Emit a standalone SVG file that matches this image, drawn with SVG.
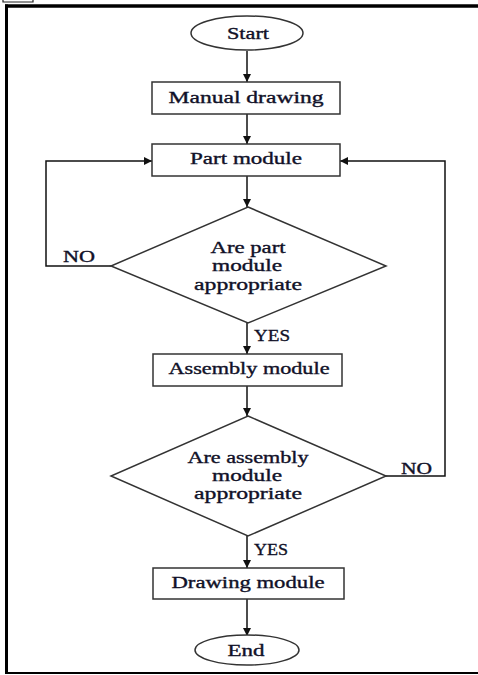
<svg xmlns="http://www.w3.org/2000/svg" width="478" height="675" viewBox="0 0 478 675">
<style>
.shape{fill:#fff;stroke:#333;stroke-width:1.5}
.conn{fill:none;stroke:#111;stroke-width:1.5}
text{font-family:"Liberation Serif","Times New Roman",serif;font-size:16px;fill:#111128;stroke:#111128;stroke-width:0.35;text-anchor:middle}
.lbl{text-anchor:start}
</style>
<defs>
<marker id="arr" viewBox="0 0 10 10" refX="10" refY="5" markerWidth="8" markerHeight="8" markerUnits="userSpaceOnUse" orient="auto">
<path d="M0,0 L10,5 L0,10 z" fill="#111"/>
</marker>
</defs>
<rect width="478" height="675" fill="#fff"/>
<g id="frame">
<path d="M3,0 V2 H33 V0" fill="none" stroke="#222" stroke-width="1.2"/>
<line x1="5" y1="6" x2="478" y2="6" stroke="#000" stroke-width="3.5"/>
<line x1="6.5" y1="4.5" x2="6.5" y2="674" stroke="#000" stroke-width="3"/>
<line x1="5" y1="673" x2="478" y2="673" stroke="#000" stroke-width="2"/>
</g>
<g id="connectors">
<line class="conn" x1="247" y1="51" x2="247" y2="82" marker-end="url(#arr)"/>
<line class="conn" x1="247" y1="114" x2="247" y2="144" marker-end="url(#arr)"/>
<line class="conn" x1="247" y1="176" x2="247" y2="207" marker-end="url(#arr)"/>
<polyline class="conn" points="111,266 46,266 46,161 152,161" marker-end="url(#arr)"/>
<line class="conn" x1="247" y1="323" x2="247" y2="354" marker-end="url(#arr)"/>
<line class="conn" x1="247" y1="386" x2="247" y2="416" marker-end="url(#arr)"/>
<polyline class="conn" points="386,476 445,476 445,161 340,161" marker-end="url(#arr)"/>
<line class="conn" x1="247" y1="536" x2="247" y2="568" marker-end="url(#arr)"/>
<line class="conn" x1="247" y1="599" x2="247" y2="636" marker-end="url(#arr)"/>
<text class="lbl" x="63" y="262" textLength="32" lengthAdjust="spacingAndGlyphs">NO</text>
<text class="lbl" x="254" y="341" textLength="36" lengthAdjust="spacingAndGlyphs">YES</text>
<text class="lbl" x="401" y="474" textLength="31" lengthAdjust="spacingAndGlyphs">NO</text>
<text class="lbl" x="254" y="555" textLength="34" lengthAdjust="spacingAndGlyphs">YES</text>
</g>
<g id="start">
<ellipse class="shape" cx="247" cy="33" rx="56" ry="17"/>
<text x="248" y="39" textLength="42" lengthAdjust="spacingAndGlyphs">Start</text>
</g>
<g id="manual-drawing">
<rect class="shape" x="152" y="82" width="188" height="32"/>
<text x="246" y="103" textLength="155" lengthAdjust="spacingAndGlyphs">Manual drawing</text>
</g>
<g id="part-module">
<rect class="shape" x="152" y="144" width="188" height="32"/>
<text x="246" y="164" textLength="112" lengthAdjust="spacingAndGlyphs">Part module</text>
</g>
<g id="decision-part">
<polygon class="shape" points="248,207 386,266 248,323 111,266"/>
<text x="248" y="253" textLength="75" lengthAdjust="spacingAndGlyphs">Are part</text>
<text x="247" y="271" textLength="70" lengthAdjust="spacingAndGlyphs">module</text>
<text x="248" y="290" textLength="108" lengthAdjust="spacingAndGlyphs">appropriate</text>
</g>
<g id="assembly-module">
<rect class="shape" x="153" y="354" width="189" height="32"/>
<text x="249" y="374" textLength="161" lengthAdjust="spacingAndGlyphs">Assembly module</text>
</g>
<g id="decision-assembly">
<polygon class="shape" points="248,416 386,476 248,536 111,476"/>
<text x="248" y="463" textLength="121" lengthAdjust="spacingAndGlyphs">Are assembly</text>
<text x="247" y="481" textLength="70" lengthAdjust="spacingAndGlyphs">module</text>
<text x="248" y="499" textLength="108" lengthAdjust="spacingAndGlyphs">appropriate</text>
</g>
<g id="drawing-module">
<rect class="shape" x="153" y="568" width="191" height="31"/>
<text x="248" y="588" textLength="153" lengthAdjust="spacingAndGlyphs">Drawing module</text>
</g>
<g id="end">
<ellipse class="shape" cx="247" cy="650" rx="52" ry="15"/>
<text x="246" y="656" textLength="37" lengthAdjust="spacingAndGlyphs">End</text>
</g>
</svg>
